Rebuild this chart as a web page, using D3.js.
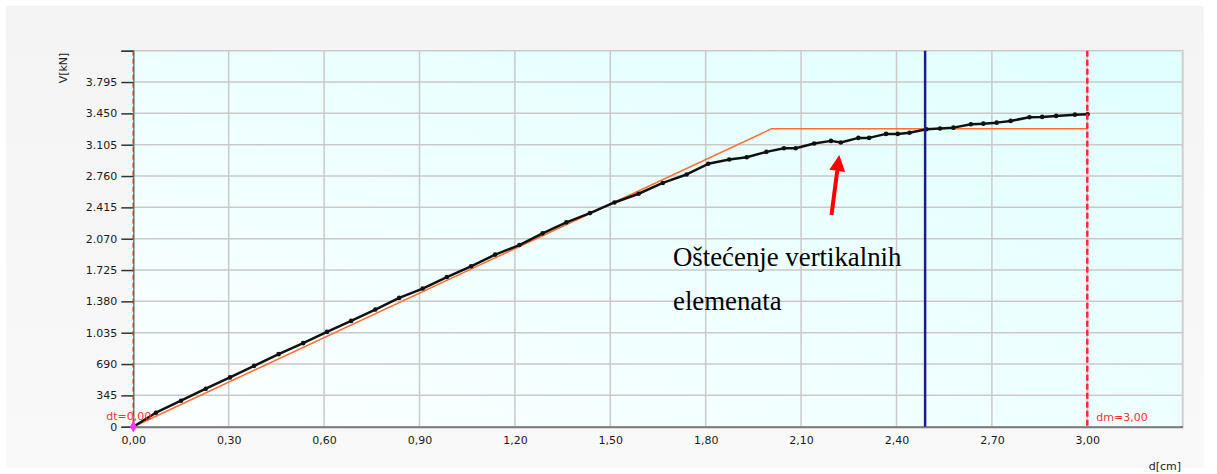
<!DOCTYPE html>
<html><head><meta charset="utf-8">
<script src="https://cdn.jsdelivr.net/npm/d3@7"></script>
<style>html,body{margin:0;padding:0;background:#fff;}svg{display:block;}</style>
</head><body>
<svg id="c" width="1217" height="474"></svg>
<script>
// ---- data ----
const dValues = [0, 0.071, 0.150, 0.228, 0.304, 0.380, 0.457, 0.534, 0.609, 0.685, 0.761, 0.836, 0.910, 0.986, 1.062, 1.138, 1.214, 1.287, 1.362, 1.436, 1.513, 1.589, 1.665, 1.740, 1.808, 1.874, 1.929, 1.991, 2.046, 2.083, 2.141, 2.194, 2.225, 2.280, 2.314, 2.367, 2.404, 2.441, 2.494, 2.537, 2.579, 2.634, 2.673, 2.715, 2.759, 2.818, 2.858, 2.902, 2.961, 3.001];
const vValues = [0, 154, 286, 418, 543, 670, 799, 920, 1044, 1165, 1290, 1418, 1521, 1648, 1766, 1895, 2000, 2129, 2250, 2352, 2469, 2565, 2684, 2777, 2895, 2942, 2967, 3026, 3066, 3066, 3118, 3147, 3129, 3180, 3180, 3224, 3224, 3236, 3275, 3284, 3293, 3330, 3337, 3348, 3367, 3407, 3411, 3422, 3436, 3440];
const bilinD = [0, 2.007, 3.00];
const bilinV = [0, 3280, 3280];
const xTicks = [0, 0.30, 0.60, 0.90, 1.20, 1.50, 1.80, 2.10, 2.40, 2.70, 3.00];
const yTicks = [0, 345, 690, 1035, 1380, 1725, 2070, 2415, 2760, 3105, 3450, 3795, 4140];
const xDomain = [0, 3.30];
const yDomain = [0, 4140];
const dt = 0.00, dm = 3.00, dMarker = 2.49;
const xTitle = "d[cm]", yTitle = "V[kN]";
const noteLines = ["Oštećenje vertikalnih", "elemenata"];

// ---- setup ----
const svg = d3.select("#c");
const L = 133.3, R = 1182.7, T = 50.7, B = 426.7;
const x = d3.scaleLinear().domain(xDomain).range([L, R]);
const y = d3.scaleLinear().domain(yDomain).range([B, T]);
const loc = d3.formatLocale({decimal: ",", thousands: ".", grouping: [3], currency: ["", ""]});
const fy = loc.format(",d"), fx = loc.format(".2f");
const tickFont = "DejaVu Sans, Verdana, sans-serif";

// outer panel
svg.append("rect").attr("x", 0).attr("y", 0).attr("width", 1217).attr("height", 474).attr("fill", "#ffffff");
const defs = svg.append("defs");
const og = defs.append("linearGradient").attr("id", "og").attr("x1", 0).attr("y1", 0).attr("x2", 0).attr("y2", 1);
og.append("stop").attr("offset", "0%").attr("stop-color", "#f4f4f4");
og.append("stop").attr("offset", "100%").attr("stop-color", "#f9f9f9");
svg.append("rect").attr("x", 6).attr("y", 6).attr("width", 1198).attr("height", 462).attr("fill", "url(#og)");

// plot bg gradient
const pg = defs.append("linearGradient").attr("id", "pg").attr("x1", 0).attr("y1", 1).attr("x2", 1).attr("y2", 0);
pg.append("stop").attr("offset", "0%").attr("stop-color", "#fcffff");
pg.append("stop").attr("offset", "100%").attr("stop-color", "#e0ffff");
svg.append("rect").attr("x", L).attr("y", T).attr("width", R - L).attr("height", B - T).attr("fill", "url(#pg)");

// grid
svg.append("g").selectAll("line").data(yTicks).join("line")
  .attr("x1", L).attr("x2", R).attr("y1", d => y(d)).attr("y2", d => y(d))
  .attr("stroke", "#c9c9c9").attr("stroke-width", 1.5);
svg.append("g").selectAll("line").data(xTicks.filter(d => d > 0)).join("line")
  .attr("x1", d => x(d)).attr("x2", d => x(d)).attr("y1", T).attr("y2", B)
  .attr("stroke", "#c9c9c9").attr("stroke-width", 1.5);
// right border
svg.append("line").attr("x1", R).attr("x2", R).attr("y1", T - 1).attr("y2", B)
  .attr("stroke", "#cfcfcf").attr("stroke-width", 2);

// y axis
const ya = svg.append("g").attr("transform", `translate(${L},0)`)
  .call(d3.axisLeft(y).tickValues(yTicks).tickSize(12).tickPadding(4)
    .tickFormat(d => d === 4140 ? "" : fy(d)));
ya.select(".domain").attr("stroke", "#7a7a7a").attr("stroke-width", 1.5);
ya.selectAll(".tick line").attr("stroke", "#333").attr("stroke-width", 1.5);
ya.selectAll("text").attr("font-family", tickFont).attr("font-size", 11).attr("fill", "#1a1a1a");

// x axis
const xa = svg.append("g").attr("transform", `translate(0,${B})`)
  .call(d3.axisBottom(x).tickValues(xTicks).tickSize(0).tickPadding(10).tickFormat(d => fx(d)));
xa.select(".domain").attr("stroke", "#7a7a7a").attr("stroke-width", 2);
xa.selectAll("text").attr("font-family", tickFont).attr("font-size", 11).attr("fill", "#1a1a1a");

// dt line (at 0)
svg.append("line").attr("x1", x(dt)).attr("x2", x(dt)).attr("y1", T).attr("y2", B)
  .attr("stroke", "#d83030").attr("stroke-width", 1.5).attr("stroke-dasharray", "5,3");

// bilinear
const line = d3.line().x(d => x(d[0])).y(d => y(d[1]));
svg.append("path").datum(d3.zip(bilinD, bilinV)).attr("d", line)
  .attr("fill", "none").attr("stroke", "#ff7033").attr("stroke-width", 1.5);

// curve
const pts = d3.zip(dValues, vValues);
svg.append("path").datum(pts).attr("d", line)
  .attr("fill", "none").attr("stroke", "#111").attr("stroke-width", 2.5).attr("stroke-linejoin", "round");
svg.append("g").selectAll("circle").data(pts.slice(1)).join("circle")
  .attr("cx", d => x(d[0])).attr("cy", d => y(d[1])).attr("r", 2.3).attr("fill", "#111");

// blue marker line
svg.append("line").attr("x1", x(dMarker)).attr("x2", x(dMarker)).attr("y1", T).attr("y2", B)
  .attr("stroke", "#1c1c8f").attr("stroke-width", 2.5);

// dm line
svg.append("line").attr("x1", x(dm)).attr("x2", x(dm)).attr("y1", T).attr("y2", B)
  .attr("stroke", "#ff2a2a").attr("stroke-width", 2.5).attr("stroke-dasharray", "6,3");

// labels dt / dm
svg.append("text").attr("x", x(dt) - 27).attr("y", y(0) - 7).text("dt=" + fx(dt))
  .attr("font-family", tickFont).attr("font-size", 11).attr("fill", "#ff3030");
svg.append("text").attr("x", x(dm) + 9).attr("y", y(0) - 6).text("dm=" + fx(dm))
  .attr("font-family", tickFont).attr("font-size", 11).attr("fill", "#ff3030");

// origin marker
svg.append("path").attr("d", d3.symbol(d3.symbolDiamond, 40)())
  .attr("transform", `translate(${x(0)},${y(0)})`).attr("fill", "#ff33ff");

// axis titles
svg.append("text").attr("transform", "translate(67,68) rotate(-90)").attr("text-anchor", "middle")
  .text(yTitle).attr("font-family", tickFont).attr("font-size", 11).attr("fill", "#1a1a1a");
svg.append("text").attr("x", 1181).attr("y", 470).attr("text-anchor", "end")
  .text(xTitle).attr("font-family", tickFont).attr("font-size", 11).attr("fill", "#1a1a1a");

// annotation
svg.append("g").selectAll("text").data(noteLines).join("text")
  .attr("x", 673).attr("y", (d, i) => 266 + i * 44).text(d => d)
  .attr("font-family", "Liberation Serif, Times New Roman, serif").attr("font-size", 26.8).attr("fill", "#000");

// arrow
const tail = [831.5, 215], tip = [839.3, 155];
const ang = Math.atan2(tip[1] - tail[1], tip[0] - tail[0]);
const hl = 16, hw = 8;
const base = [tip[0] - hl * Math.cos(ang), tip[1] - hl * Math.sin(ang)];
svg.append("line").attr("x1", tail[0]).attr("y1", tail[1]).attr("x2", base[0]).attr("y2", base[1])
  .attr("stroke", "#ff0000").attr("stroke-width", 4);
svg.append("path").attr("d", `M${tip[0]},${tip[1]} L${base[0] + hw * Math.sin(ang)},${base[1] - hw * Math.cos(ang)} L${base[0] - hw * Math.sin(ang)},${base[1] + hw * Math.cos(ang)} Z`)
  .attr("fill", "#ff0000");
</script>
</body></html>
